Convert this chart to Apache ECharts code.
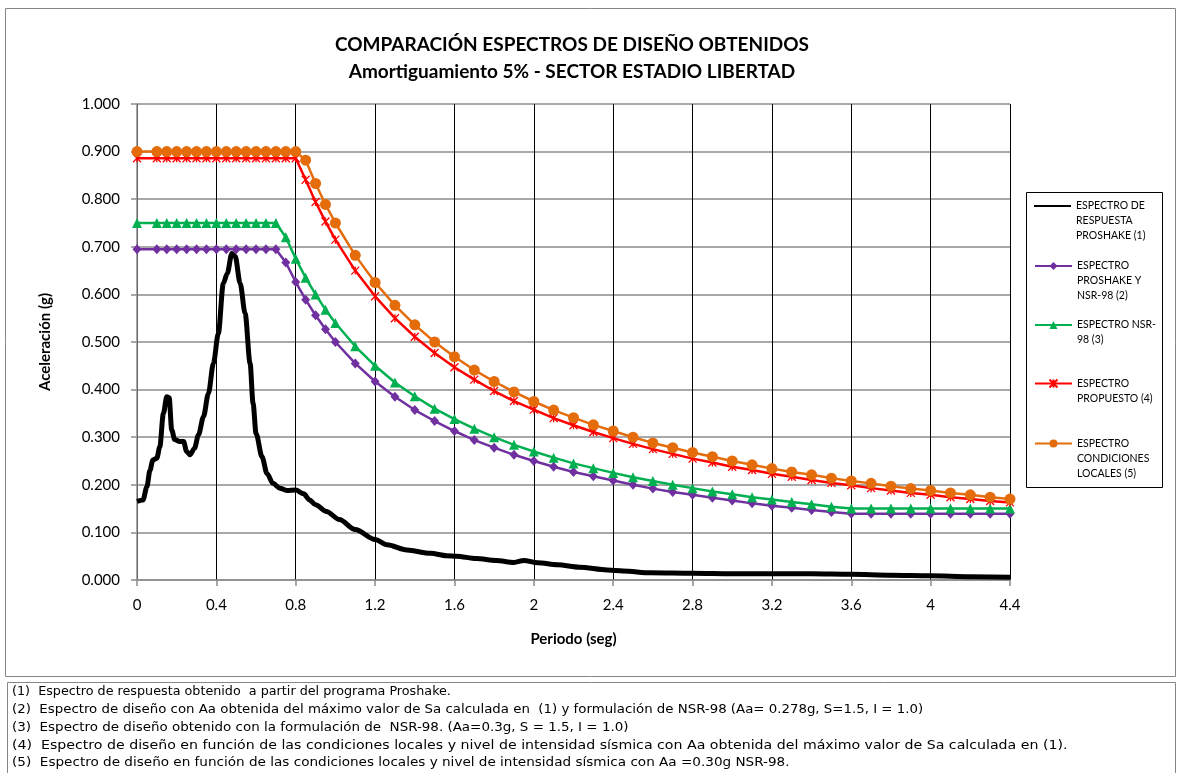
<!DOCTYPE html>
<html>
<head>
<meta charset="utf-8">
<script src="https://cdn.jsdelivr.net/npm/echarts@6/dist/echarts.min.js"></script>
<style>
  html, body { margin: 0; padding: 0; background: #ffffff; }
  #chart { width: 1181px; height: 773px; }
</style>
</head>
<body>
<div id="chart"></div>
<script>
// Periodos (s) at which the design spectra are evaluated
const periods = [0, 0.1, 0.15, 0.2, 0.25, 0.3, 0.35, 0.4, 0.45, 0.5, 0.55, 0.6, 0.65, 0.7, 0.75, 0.8,
  0.85, 0.9, 0.95, 1.0, 1.1, 1.2, 1.3, 1.4, 1.5, 1.6, 1.7, 1.8, 1.9, 2.0, 2.1, 2.2, 2.3, 2.4, 2.5,
  2.6, 2.7, 2.8, 2.9, 3.0, 3.1, 3.2, 3.3, 3.4, 3.5, 3.6, 3.7, 3.8, 3.9, 4.0, 4.1, 4.2, 4.3, 4.4];

// (2) Espectro Proshake y NSR-98 (Aa = 0.278g)
const saProshakeNsr = [0.695, 0.695, 0.695, 0.695, 0.695, 0.695, 0.695, 0.695, 0.695, 0.695, 0.695, 0.695, 0.695, 0.695,
  0.667, 0.626, 0.589, 0.556, 0.527, 0.500,
  0.455, 0.417, 0.385, 0.357, 0.334, 0.313, 0.294, 0.278, 0.263, 0.250, 0.238, 0.227, 0.218, 0.209, 0.200,
  0.192, 0.185, 0.179, 0.173, 0.167, 0.161, 0.156, 0.152, 0.147, 0.143,
  0.139, 0.139, 0.139, 0.139, 0.139, 0.139, 0.139, 0.139, 0.139];

// (3) Espectro NSR-98 (Aa = 0.3g)
const saNsr98 = [0.750, 0.750, 0.750, 0.750, 0.750, 0.750, 0.750, 0.750, 0.750, 0.750, 0.750, 0.750, 0.750, 0.750,
  0.720, 0.675, 0.635, 0.600, 0.568, 0.540,
  0.491, 0.450, 0.415, 0.386, 0.360, 0.338, 0.318, 0.300, 0.284, 0.270, 0.257, 0.245, 0.235, 0.225, 0.216,
  0.208, 0.200, 0.193, 0.186, 0.180, 0.174, 0.169, 0.164, 0.159, 0.154,
  0.150, 0.150, 0.150, 0.150, 0.150, 0.150, 0.150, 0.150, 0.150];

// (4) Espectro propuesto
const saPropuesto = [0.886, 0.886, 0.886, 0.886, 0.886, 0.886, 0.886, 0.886, 0.886, 0.886, 0.886, 0.886, 0.886, 0.886, 0.886, 0.886,
  0.841, 0.794, 0.753, 0.715,
  0.650, 0.596, 0.550, 0.511, 0.477, 0.447, 0.421, 0.397, 0.376, 0.358, 0.340, 0.325, 0.311, 0.298, 0.286,
  0.275, 0.265, 0.255, 0.247, 0.238, 0.231, 0.223, 0.217, 0.210, 0.204, 0.199, 0.193, 0.188, 0.183, 0.179,
  0.174, 0.170, 0.166, 0.163];

// (5) Espectro condiciones locales
const saLocales = [0.900, 0.900, 0.900, 0.900, 0.900, 0.900, 0.900, 0.900, 0.900, 0.900, 0.900, 0.900, 0.900, 0.900, 0.900, 0.900,
  0.882, 0.833, 0.789, 0.750,
  0.682, 0.625, 0.577, 0.536, 0.500, 0.469, 0.441, 0.417, 0.395, 0.375, 0.357, 0.341, 0.326, 0.313, 0.300,
  0.288, 0.278, 0.268, 0.259, 0.250, 0.242, 0.234, 0.227, 0.221, 0.214, 0.208, 0.203, 0.197, 0.192, 0.188,
  0.183, 0.179, 0.174, 0.170];

// (1) Espectro de respuesta Proshake
const proshakeT = [0.00, 0.03, 0.05, 0.065, 0.08, 0.10, 0.115, 0.133, 0.15, 0.162, 0.175, 0.19, 0.215, 0.235,
  0.25, 0.267, 0.29, 0.31, 0.335, 0.36, 0.385, 0.41, 0.435, 0.455, 0.478, 0.495, 0.52, 0.545, 0.57, 0.585,
  0.60, 0.63, 0.655, 0.685, 0.72, 0.755, 0.80, 0.84, 0.87, 0.90, 0.955, 1.02, 1.10, 1.20, 1.26, 1.36,
  1.48, 1.56, 1.61, 1.71, 1.81, 1.90, 1.95, 2.02, 2.12, 2.23, 2.37, 2.45, 2.59, 2.80, 3.00, 3.20, 3.40,
  3.60, 3.80, 4.00, 4.20, 4.40];
const proshakeSa = [0.165, 0.168, 0.196, 0.230, 0.252, 0.256, 0.280, 0.350, 0.385, 0.383, 0.315, 0.295, 0.291, 0.291,
  0.270, 0.263, 0.277, 0.305, 0.343, 0.392, 0.455, 0.518, 0.623, 0.644, 0.686, 0.680, 0.623, 0.560, 0.455, 0.371,
  0.308, 0.259, 0.224, 0.203, 0.193, 0.188, 0.189, 0.181, 0.168, 0.158, 0.144, 0.127, 0.106, 0.085, 0.074, 0.063,
  0.056, 0.051, 0.050, 0.045, 0.041, 0.037, 0.041, 0.036, 0.032, 0.027, 0.021, 0.019, 0.015, 0.014, 0.013, 0.013, 0.013,
  0.012, 0.010, 0.009, 0.007, 0.006];

const seriesNames = [
  'ESPECTRO DE RESPUESTA PROSHAKE (1)',
  'ESPECTRO PROSHAKE Y NSR-98 (2)',
  'ESPECTRO NSR-98 (3)',
  'ESPECTRO PROPUESTO (4)',
  'ESPECTRO CONDICIONES LOCALES (5)'
];
const legendLabels = [
  'ESPECTRO DE\nRESPUESTA\nPROSHAKE (1)',
  'ESPECTRO\nPROSHAKE Y\nNSR-98 (2)',
  'ESPECTRO NSR-\n98 (3)',
  'ESPECTRO\nPROPUESTO (4)',
  'ESPECTRO\nCONDICIONES\nLOCALES (5)'
];
const xTickLabels = ['0', '0.4', '0.8', '1.2', '1.6', '2', '2.4', '2.8', '3.2', '3.6', '4', '4.4'];
const yTickLabels = ['0.000', '0.100', '0.200', '0.300', '0.400', '0.500', '0.600', '0.700', '0.800', '0.900', '1.000'];

const footnotes = [
  '(1)  Espectro de respuesta obtenido  a partir del programa Proshake.',
  '(2)  Espectro de diseño con Aa obtenida del máximo valor de Sa calculada en  (1) y formulación de NSR-98 (Aa= 0.278g, S=1.5, I = 1.0)',
  '(3)  Espectro de diseño obtenido con la formulación de  NSR-98. (Aa=0.3g, S = 1.5, I = 1.0)',
  '(4)  Espectro de diseño en función de las condiciones locales y nivel de intensidad sísmica con Aa obtenida del máximo valor de Sa calculada en (1).',
  '(5)  Espectro de diseño en función de las condiciones locales y nivel de intensidad sísmica con Aa =0.30g NSR-98.'
];

const FONT = 'Lato, "Open Sans", sans-serif';
const NOTE_FONT = '"Liberation Sans Narrow", "DejaVu Sans Condensed", "Liberation Sans", sans-serif';

function pairs(xs, ys) { return xs.map((x, i) => [x, ys[i]]); }

const colors = ['#000000', '#7030A0', '#00B050', '#FF0000', '#E46C0A'];
const starPath = 'path://M0,0L10,10M10,0L0,10M5,0L5,10';

const series = [
  {
    name: seriesNames[0], type: 'line', data: pairs(proshakeT, proshakeSa),
    showSymbol: false, symbol: 'none', smooth: 0.3, smoothMonotone: 'x',
    lineStyle: { color: colors[0], width: 5 }, itemStyle: { color: colors[0] }, z: 2
  },
  {
    name: seriesNames[1], type: 'line', data: pairs(periods, saProshakeNsr),
    symbol: 'diamond', symbolSize: [9, 10],
    lineStyle: { color: colors[1], width: 2.5 }, itemStyle: { color: colors[1] }, z: 3
  },
  {
    name: seriesNames[2], type: 'line', data: pairs(periods, saNsr98),
    symbol: 'triangle', symbolSize: 10,
    lineStyle: { color: colors[2], width: 2.5 }, itemStyle: { color: colors[2] }, z: 4
  },
  {
    name: seriesNames[3], type: 'line', data: pairs(periods, saPropuesto),
    symbol: starPath, symbolSize: 8,
    lineStyle: { color: colors[3], width: 2.5 },
    itemStyle: { color: colors[3], borderColor: colors[3], borderWidth: 1.3 }, z: 5
  },
  {
    name: seriesNames[4], type: 'line', data: pairs(periods, saLocales),
    symbol: 'circle', symbolSize: 11,
    lineStyle: { color: colors[4], width: 2.5 }, itemStyle: { color: colors[4] }, z: 6
  }
];

// One legend block per series so every entry sits at its own height.
// The legend centres its text on the sample line, so blank lines are put
// ahead of the label to bring its first line level with the sample.
const legendIconY = [206, 266, 325, 383.5, 443.5];
const LH = 15;
const legends = seriesNames.map((name, i) => {
  const n = legendLabels[i].split('\n').length;
  const h = (2 * n - 1) * LH;
  const plain = i === 0; // the response spectrum has no markers: a plain bar sample
  const label = ' \n'.repeat(n - 1) + legendLabels[i];
  return {
    data: plain ? [{ name: name, icon: 'rect' }] : [name],
    left: 1034,
    top: legendIconY[i] - h / 2,
    padding: 0,
    itemWidth: 37,
    itemHeight: plain ? 2 : 10,
    selectedMode: false,
    formatter: () => label,
    textStyle: { fontFamily: FONT, fontSize: 10.5, lineHeight: LH, color: '#000' }
  };
});

const noteTop = [691.5, 710, 728, 745.5, 762.5];
const noteScale = [1.09, 1.14, 1.15, 1.21, 1.16];
const graphic = [
  { type: 'rect', silent: true, z: -10, shape: { x: 5.5, y: 8.5, width: 1170, height: 668 },
    style: { fill: 'none', stroke: '#868686', lineWidth: 1 } },
  { type: 'rect', silent: true, z: -10, shape: { x: 1026.5, y: 192.5, width: 136, height: 295 },
    style: { fill: '#ffffff', stroke: '#000000', lineWidth: 1 } },
  { type: 'rect', silent: true, z: -10, shape: { x: 7.5, y: 682.5, width: 1168, height: 110 },
    style: { fill: 'none', stroke: '#868686', lineWidth: 1 } }
].concat(footnotes.map((t, i) => ({
  type: 'text', silent: true, x: 12, y: noteTop[i], scaleX: noteScale[i],
  style: { text: t, fontFamily: NOTE_FONT, fontSize: 13, fill: '#000', verticalAlign: 'middle' }
})));

const chart = echarts.init(document.getElementById('chart'), null, { renderer: 'canvas' });
chart.setOption({
  backgroundColor: '#ffffff',
  animation: false,
  title: [
    { text: 'COMPARACIÓN ESPECTROS DE DISEÑO OBTENIDOS', left: 572, top: 35, padding: 0, textAlign: 'center',
      textStyle: { fontFamily: FONT, fontSize: 19, fontWeight: 'bold', color: '#000' } },
    { text: 'Amortiguamiento 5% - SECTOR ESTADIO LIBERTAD', left: 572, top: 62, padding: 0, textAlign: 'center',
      textStyle: { fontFamily: FONT, fontSize: 19, fontWeight: 'bold', color: '#000' } }
  ],
  legend: legends,
  grid: { left: 137, right: 171, top: 104, bottom: 193, containLabel: false },
  xAxis: {
    type: 'value', min: 0, max: 4.4, interval: 0.4,
    name: 'Periodo (seg)', nameLocation: 'middle', nameGap: 52,
    nameTextStyle: { fontFamily: FONT, fontSize: 15, fontWeight: 'bold', color: '#000' },
    axisLine: { show: true, lineStyle: { color: '#8c8c8c', width: 1.5 } },
    axisTick: { show: true, length: 6, lineStyle: { color: '#8c8c8c', width: 1.5 } },
    axisLabel: { margin: 18, fontFamily: FONT, fontSize: 15, color: '#000',
      formatter: v => xTickLabels[Math.round(v / 0.4)] },
    splitLine: { show: true, lineStyle: { color: '#000000', width: 1 } }
  },
  yAxis: {
    type: 'value', min: 0, max: 1, interval: 0.1,
    name: 'Aceleración (g)', nameLocation: 'middle', nameGap: 84, nameRotate: 90,
    nameTextStyle: { fontFamily: FONT, fontSize: 15, fontWeight: 'bold', color: '#000' },
    axisLine: { show: true, lineStyle: { color: '#8c8c8c', width: 1.5 } },
    axisTick: { show: true, length: 6, lineStyle: { color: '#8c8c8c', width: 1.5 } },
    axisLabel: { margin: 17, fontFamily: FONT, fontSize: 15, color: '#000',
      formatter: v => yTickLabels[Math.round(v / 0.1)] },
    splitLine: { show: true, lineStyle: { color: '#8c8c8c', width: 1.5 } }
  },
  series: series,
  graphic: graphic
});
</script>
</body>
</html>
